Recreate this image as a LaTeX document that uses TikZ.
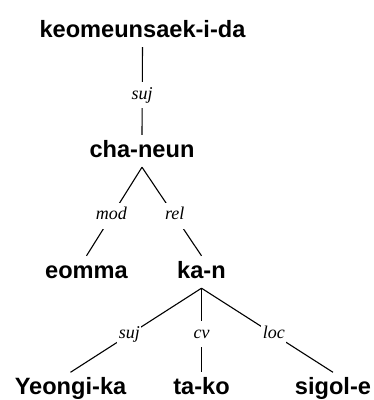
\documentclass[tikz,border=0pt]{standalone}
\usepackage{fontspec}
\setmainfont{Liberation Sans}
\newfontfamily\labelfont{Liberation Serif}

\begin{document}
\begin{tikzpicture}[
    x=1pt, y=-1pt,
    word/.style={font=\bfseries\fontsize{23.6}{28}\selectfont, anchor=base,
                 text height=17pt, text depth=5pt, inner sep=5pt},
    deprel/.style={font=\labelfont\itshape\fontsize{18}{20}\selectfont, fill=white,
                   text height=12pt, text depth=4pt, inner xsep=1.5pt, inner ysep=5pt, pos=0.55},
    branch/.style={line width=1.1pt}
    ]

\useasboundingbox (0,0) rectangle (374,400);

% Words of the dependency tree (fixed coordinates, baselines)
\node[word] (root)   at (142.5,37)  {keomeunsaek-i-da};
\node[word] (chaneun) at (142,157)  {cha-neun};
\node[word] (eomma)  at (86.5,278)  {eomma};
\node[word] (kan)    at (201.5,278) {ka-n};
\node[word] (yeongi) at (70.5,394.5)  {Yeongi-ka};
\node[word] (tako)   at (201.5,394.5) {ta-ko};
\node[word] (sigol)  at (333,394.5)   {sigol-e};

% Labelled branches
\draw[branch] (root.south) -- node[deprel] {suj} (chaneun.north);
\draw[branch] (chaneun.south) -- node[deprel] {mod} (eomma.north);
\draw[branch] (chaneun.south) -- node[deprel] {rel} (kan.north);
\draw[branch] (kan.south) -- node[deprel] {suj} (yeongi.north);
\draw[branch] (kan.south) -- node[deprel] {cv} (tako.north);
\draw[branch] (kan.south) -- node[deprel] {loc} (sigol.north);

\end{tikzpicture}
\end{document}
